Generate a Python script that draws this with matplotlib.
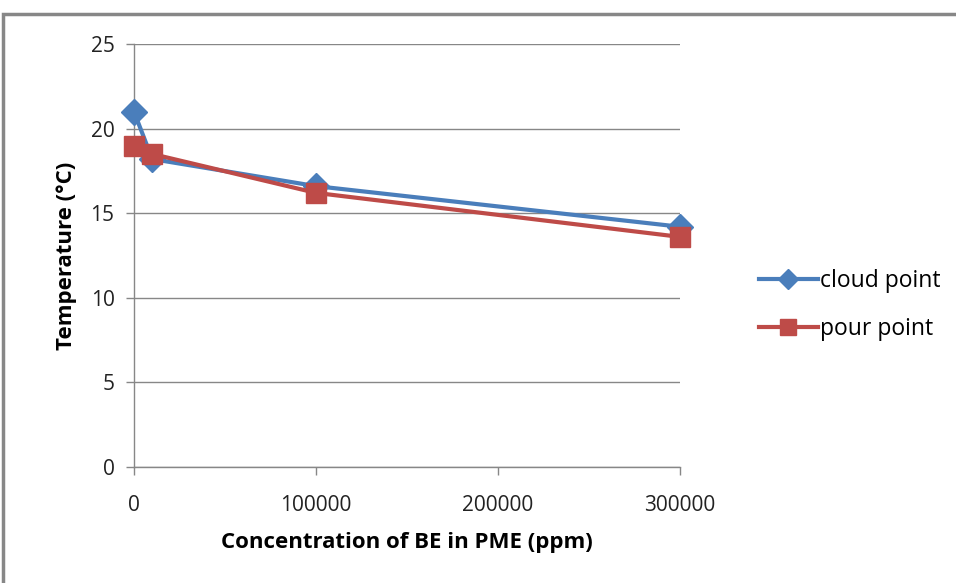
import matplotlib
matplotlib.use("Agg")
import matplotlib.pyplot as plt
from matplotlib.patches import Rectangle

conc = [0, 10000, 100000, 300000]
cloud_point = [21.0, 18.2, 16.6, 14.2]
pour_point = [19.0, 18.5, 16.2, 13.6]
x_ticks = [0, 100000, 200000, 300000]
y_ticks = [0, 5, 10, 15, 20, 25]

plt.rcParams['font.family'] = ['Open Sans', 'DejaVu Sans']

fig = plt.figure(figsize=(9.56, 5.83), dpi=100)
fig.patches.append(Rectangle((3/956, -0.05), 1.1, 1 - 14/583 + 0.05, transform=fig.transFigure,
                             fill=False, edgecolor='#878787', linewidth=2.5, zorder=0))
ax = fig.add_axes([134/956, 1 - 467/583, (680 - 134)/956, (467 - 44)/583])

ax.plot(conc, cloud_point, color='#4a7ebb', linewidth=3, marker='D', markersize=13,
        label='cloud point', zorder=3)
ax.plot(conc, pour_point, color='#be4b48', linewidth=3, marker='s', markersize=15,
        label='pour point', zorder=4)

ax.set_xlim(0, 300000)
ax.set_ylim(0, 25)
ax.set_xticks(x_ticks)
ax.set_yticks(y_ticks)
ax.set_xticklabels([str(v) for v in x_ticks])
ax.tick_params(axis='both', labelsize=15, color='#878787', length=6, width=1, labelcolor='#222222')
ax.tick_params(axis='x', pad=14)
ax.tick_params(axis='y', pad=8)
ax.grid(axis='y', color='#878787', linewidth=1)
for s in ['top', 'right']:
    ax.spines[s].set_visible(False)
for s in ['left', 'bottom']:
    ax.spines[s].set_color('#878787')
    ax.spines[s].set_linewidth(1)
ax.set_axisbelow(True)
for sp in ax.spines.values():
    sp.set_clip_on(False)

ax.set_xlabel('Concentration of BE in PME (ppm)', fontsize=16, fontweight='bold', labelpad=12)
ax.set_ylabel('Temperature (°C)', fontsize=16, fontweight='bold', labelpad=10)
for line in ax.get_lines():
    line.set_clip_on(False)

leg = fig.legend(loc='upper left', bbox_to_anchor=(738/956, 1 - 248/583), frameon=False,
                 fontsize=16.5, handlelength=2.6, handletextpad=0.1, labelspacing=1.05,
                 markerscale=0.8)

fig.savefig('out.png', dpi=100)
